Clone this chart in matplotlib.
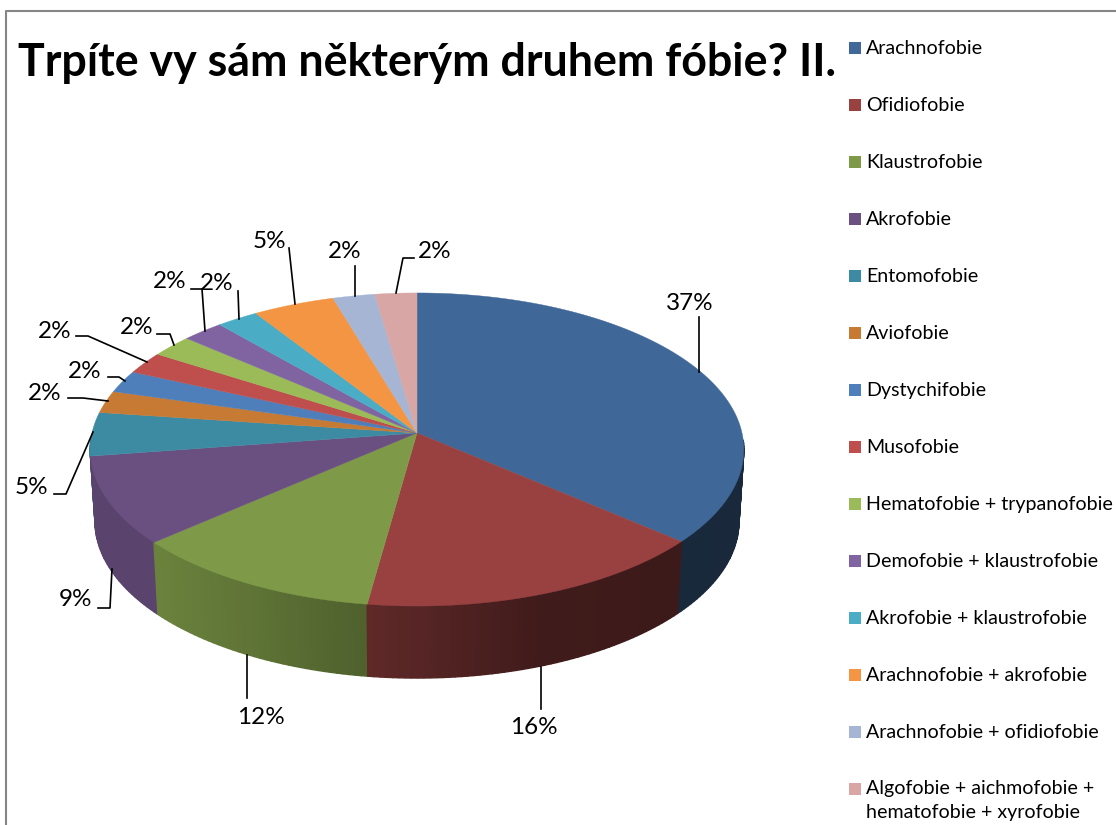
"""Koláčový 3D graf: Trpíte vy sám některým druhem fóbie? II."""

import numpy as np
import matplotlib
matplotlib.use("Agg")
import matplotlib.pyplot as plt
from matplotlib.colors import to_rgb
from matplotlib.patches import Rectangle

plt.rcParams["font.family"] = ["Lato", "DejaVu Sans"]

TITLE = "Trpíte vy sám některým druhem fóbie? II."

categories = [
    "Arachnofobie", "Ofidiofobie", "Klaustrofobie", "Akrofobie", "Entomofobie",
    "Aviofobie", "Dystychifobie", "Musofobie", "Hematofobie + trypanofobie",
    "Demofobie + klaustrofobie", "Akrofobie + klaustrofobie",
    "Arachnofobie + akrofobie", "Arachnofobie + ofidiofobie",
    "Algofobie + aichmofobie +\nhematofobie + xyrofobie",
]
# velikost výsečí odečtená z obrysu koláče
shares = [36.4, 15.9, 11.4, 9.1, 4.5, 2.3, 2.3, 2.3, 2.3, 2.3, 2.3, 4.5, 2.3, 2.3]
# popisky tak, jak jsou v grafu
percent_labels = ["37%", "16%", "12%", "9%", "5%", "2%", "2%", "2%", "2%", "2%", "2%", "5%", "2%", "2%"]

colors = [
    "#3F6797", "#984140", "#7E9A48", "#6A5080", "#3D8BA3", "#C67A34", "#4F7FBA",
    "#BE4F4D", "#9BBB59", "#8064A2", "#4BACC6", "#F39543", "#A7B5D5", "#D7A6A5",
]

# rozložení v pixelech
APEX_X, APEX_Y = 417, 433
RX, RY, PERSP = 325, 154.8, 0.1054
DEPTH, BOTTOM_SCALE = 72, 0.985

label_pos = [
    (690, 303), (534, 728), (261, 717), (76, 600), (31, 488), (45, 394), (85, 371),
    (55, 331), (137, 327), (170, 282), (217, 284), (269, 241), (345, 251), (435, 251),
]
leaders = [
    [(699, 372), (699, 317)],
    [(541, 667), (541, 709)],
    [(247, 655), (247, 698)],
    [(98, 608), (110, 608), (112, 569)],
    [(54, 494), (66, 494), (93, 432)],
    [(68, 398), (83, 398), (108, 401)],
    [(108, 377), (119, 377), (125, 381)],
    [(76, 336), (88, 336), (147, 362)],
    [(157, 334), (170, 334), (174, 345)],
    [(191, 289), (202, 289), (205, 331)],
    [(238, 291), (239, 319)],
    [(289, 248), (295, 304)],
    [(355, 266), (355, 296)],
    [(414, 258), (403, 258), (396, 293)],
]


def project(theta):
    """Bod na okraji koláče, theta měřeno po směru hodin od vrcholu."""
    x, y = np.sin(theta), np.cos(theta)
    w = 1 + PERSP * y
    return APEX_X + RX * x / w, APEX_Y - RY * y / w


def wall_shade(x):
    return np.interp(x, [153, 366, 540, 740], [0.85, 0.63, 0.42, 0.39])


fig = plt.figure(figsize=(11.16, 8.25), dpi=100)
ax = fig.add_axes([0, 0, 1, 1])
ax.set_xlim(0, 1116)
ax.set_ylim(825, 0)
ax.axis("off")

# rámeček grafu
ax.plot([6, 6, 1116], [825, 10.5, 10.5], color="#868686", lw=1.5)

edges = np.radians(np.cumsum([0] + shares) / sum(shares) * 360)

# boční stěna, jen přední část a odzadu dopředu
segments = []
for i, color in enumerate(colors):
    n = max(int(np.degrees(edges[i + 1] - edges[i])), 2)
    ts = np.linspace(edges[i], edges[i + 1], n + 1)
    for a, b in zip(ts[:-1], ts[1:]):
        if np.cos((a + b) / 2) < -0.05:
            segments.append((np.cos((a + b) / 2), a, b, color))
segments.sort(key=lambda s: -s[0])
for _, a, b, color in segments:
    xa, ya = project(a)
    xb, yb = project(b)
    xs = [xa, xb, APEX_X + (xb - APEX_X) * BOTTOM_SCALE, APEX_X + (xa - APEX_X) * BOTTOM_SCALE]
    ys = [ya, yb, yb + DEPTH, ya + DEPTH]
    rgb = np.array(to_rgb(color)) * wall_shade((xa + xb) / 2)
    ax.fill(xs, ys, color=rgb, lw=1.0)

# horní plocha
for i, color in enumerate(colors):
    ts = np.linspace(edges[i], edges[i + 1], 120)
    xs, ys = project(ts)
    ax.fill(np.r_[APEX_X, xs], np.r_[APEX_Y, ys], color=color, lw=0.3)

# popisky a vodicí čáry
for text, pos, path in zip(percent_labels, label_pos, leaders):
    ax.text(pos[0], pos[1], text, fontsize=17.5, color="black", ha="center", va="center")
    ax.plot(*zip(*path), color="black", lw=1.2)

ax.text(18, 63.5, TITLE, fontsize=32.2, fontweight="bold", color="black", ha="left", va="center")

# legenda
for i, (name, color) in enumerate(zip(categories, colors)):
    y = 48 + 57 * i
    ax.add_patch(Rectangle((849, y - 6), 12, 12, color=color, lw=0))
    if "\n" in name:
        ax.text(866, y - 9, name, fontsize=14.1, color="black", ha="left", va="top", linespacing=1.5)
    else:
        ax.text(866, y + 0.5, name, fontsize=14.1, color="black", ha="left", va="center")

fig.savefig("out.png", dpi=100)
